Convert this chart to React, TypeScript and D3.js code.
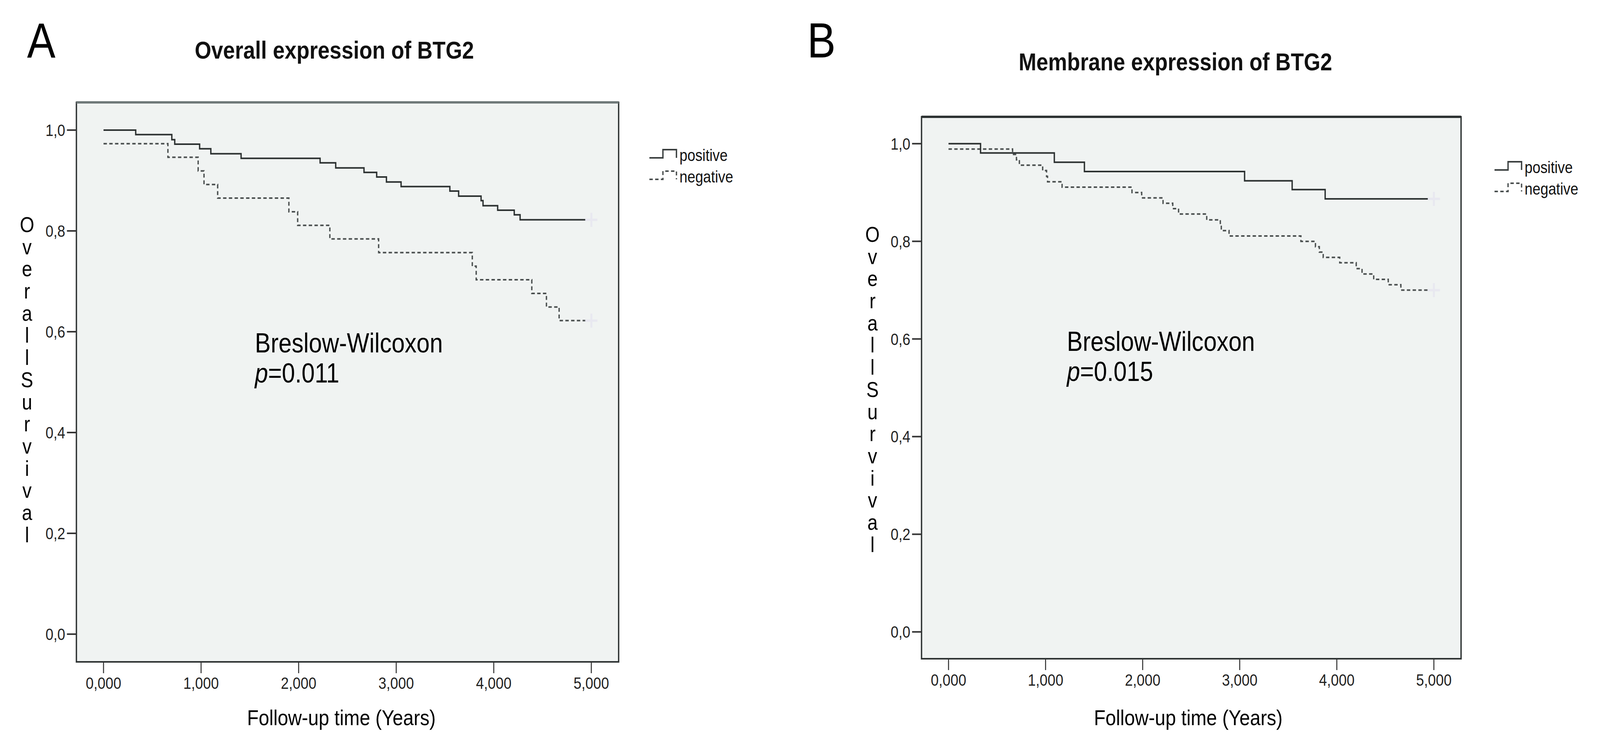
import React, { useEffect } from 'react';
import * as d3 from 'd3';

const W = 4733;
const H = 1917;
const FONT = '"Liberation Sans", Arial, Helvetica, sans-serif';

// axes
const yTicks = [0, 0.2, 0.4, 0.6, 0.8, 1.0];
const yTickLabels = ['0,0', '0,2', '0,4', '0,6', '0,8', '1,0'];
const xTicks = [0, 1, 2, 3, 4, 5];
const xTickLabels = ['0,000', '1,000', '2,000', '3,000', '4,000', '5,000'];
const seriesNames = ['positive', 'negative'];
const censorTime = 5.0;

// A: overall expression
const overallPosTimes = [0, 0.33, 0.7, 0.73, 0.985, 1.1, 1.41, 2.22, 2.38, 2.67, 2.8, 2.9, 3.05, 3.55, 3.64, 3.87, 3.89, 4.04, 4.21, 4.27];
const overallPosSurv = [1.0, 0.991, 0.981, 0.972, 0.963, 0.953, 0.944, 0.935, 0.925, 0.916, 0.907, 0.897, 0.888, 0.879, 0.869, 0.86, 0.85, 0.841, 0.832, 0.822];
const overallNegTimes = [0, 0.66, 0.97, 1.03, 1.17, 1.9, 1.99, 2.32, 2.82, 3.78, 3.82, 4.39, 4.54, 4.67];
const overallNegSurv = [0.973, 0.946, 0.919, 0.892, 0.865, 0.838, 0.811, 0.784, 0.757, 0.73, 0.703, 0.676, 0.649, 0.622];

// B: membrane expression
const membranePosTimes = [0, 0.33, 1.09, 1.4, 3.05, 3.54, 3.88];
const membranePosSurv = [1.0, 0.981, 0.962, 0.943, 0.924, 0.906, 0.887];
const membraneNegTimes = [0, 0.66, 0.7, 0.73, 0.97, 1.01, 1.02, 1.17, 1.89, 1.99, 2.21, 2.31, 2.37, 2.66, 2.8, 2.81, 2.89, 3.63, 3.78, 3.82, 3.86, 4.03, 4.2, 4.26, 4.38, 4.53, 4.66];
const membraneNegSurv = [0.989, 0.978, 0.967, 0.956, 0.945, 0.933, 0.922, 0.911, 0.9, 0.889, 0.878, 0.867, 0.856, 0.844, 0.833, 0.822, 0.811, 0.8, 0.789, 0.778, 0.767, 0.756, 0.744, 0.733, 0.722, 0.711, 0.7];

const yLabelLetters = 'OverallSurvival'.split('');

interface Frame { left: number; top: number; right: number; bottom: number; }

interface PanelProps {
  letter: string;
  letterX: number;
  title: string;
  titleX: number;
  titleY: number;
  frame: Frame;
  topStroke: string;
  posTimes: number[];
  posSurv: number[];
  negTimes: number[];
  negSurv: number[];
  pValue: string;
  noteX: number;
  noteY: number;
  legendX: number;
  legendY: number;
  yLabelX: number;
  yLabelY: number;
  xTitleX: number;
}

const Panel: React.FC<PanelProps> = (p) => {
  const { frame } = p;
  const x = d3.scaleLinear().domain([-0.278, 5.28]).range([frame.left, frame.right]);
  const y = d3.scaleLinear().domain([-0.055, 1.055]).range([frame.bottom, frame.top]);

  const line = d3.line<[number, number]>()
    .x(d => x(d[0]))
    .y(d => y(d[1]))
    .curve(d3.curveStepAfter);

  const toPoints = (times: number[], surv: number[]): [number, number][] => {
    const pts = times.map((t, i) => [t, surv[i]] as [number, number]);
    pts.push([censorTime, surv[surv.length - 1]]);
    return pts;
  };

  const pos = toPoints(p.posTimes, p.posSurv);
  const neg = toPoints(p.negTimes, p.negSurv);
  const posEnd = p.posSurv[p.posSurv.length - 1];
  const negEnd = p.negSurv[p.negSurv.length - 1];

  // censored mark, drawn very faint as in the SPSS export
  const plus = (cx: number, cy: number, key: string) => (
    <g key={key} stroke="#e8e8f0" strokeWidth={6}>
      <line x1={cx - 18} x2={cx + 18} y1={cy} y2={cy} />
      <line x1={cx} x2={cx} y1={cy - 18} y2={cy + 18} />
    </g>
  );

  const legendSymbol = (base: number) =>
    `M${p.legendX},${base - 8}H${p.legendX + 40}V${base - 29}H${p.legendX + 80}V${base - 8}`;

  return (
    <g fontFamily={FONT}>
      <text x={p.letterX} y={147} fontSize={126} fill="#000">{p.letter}</text>
      <text x={p.titleX} y={p.titleY} fontSize={63} fontWeight="bold" textAnchor="middle" fill="#111">
        {p.title}
      </text>

      <rect x={frame.left} y={frame.top} width={frame.right - frame.left} height={frame.bottom - frame.top}
        fill="#f0f3f2" stroke="#2e3333" strokeWidth={4} />
      <line x1={frame.left} x2={frame.right} y1={frame.top} y2={frame.top} stroke={p.topStroke} strokeWidth={6} />

      {/* y axis */}
      {yTicks.map((t, i) => (
        <g key={'y' + i}>
          <line x1={frame.left - 28} x2={frame.left} y1={y(t)} y2={y(t)} stroke="#333" strokeWidth={4} />
          <text x={frame.left - 33} y={y(t) + 15} fontSize={42} textAnchor="end" fill="#222">{yTickLabels[i]}</text>
        </g>
      ))}

      {/* x axis */}
      {xTicks.map((t, i) => (
        <g key={'x' + i}>
          <line x1={x(t)} x2={x(t)} y1={frame.bottom} y2={frame.bottom + 29} stroke="#333" strokeWidth={3} />
          <text x={x(t)} y={frame.bottom + 69} fontSize={42} textAnchor="middle" fill="#222">{xTickLabels[i]}</text>
        </g>
      ))}

      <text x={p.xTitleX} y={1856} fontSize={56} textAnchor="middle" fill="#000">Follow-up time (Years)</text>

      <text x={p.yLabelX} y={p.yLabelY} fontSize={55} textAnchor="middle" fill="#000">
        {yLabelLetters.map((c, i) => (
          <tspan key={i} x={p.yLabelX} dy={i === 0 ? 0 : 56.7}>{c}</tspan>
        ))}
      </text>

      {/* curves */}
      <path d={line(neg) || ''} fill="none" stroke="#4a4f4f" strokeWidth={4} strokeDasharray="10 7" />
      <path d={line(pos) || ''} fill="none" stroke="#2c3131" strokeWidth={4} />
      {plus(x(censorTime), y(posEnd), 'cp')}
      {plus(x(censorTime), y(negEnd), 'cn')}

      {/* legend */}
      <path d={legendSymbol(p.legendY)} fill="none" stroke="#3a3f3f" strokeWidth={4} />
      <text x={p.legendX + 89} y={p.legendY} fontSize={42} fill="#111">{seriesNames[0]}</text>
      <path d={legendSymbol(p.legendY + 55)} fill="none" stroke="#4a4f4f" strokeWidth={4} strokeDasharray="10 7" />
      <text x={p.legendX + 89} y={p.legendY + 55} fontSize={42} fill="#111">{seriesNames[1]}</text>

      {/* test annotation */}
      <text x={p.noteX} y={p.noteY} fontSize={70} fill="#000">Breslow-Wilcoxon</text>
      <text x={p.noteX} y={p.noteY + 77} fontSize={70} fill="#000">
        <tspan fontStyle="italic">p</tspan>={p.pValue}
      </text>
    </g>
  );
};

export default function App() {
  useEffect(() => {
    document.body.style.margin = '0';
    document.body.style.overflow = 'hidden';
  }, []);

  return (
    <svg viewBox={`0 0 ${W} ${H}`} preserveAspectRatio="none"
      style={{ position: 'fixed', left: 0, top: 0, width: '100vw', height: '100vh', display: 'block', background: '#fff' }}>
      <rect width={W} height={H} fill="#fff" />
      <Panel
        letter="A" letterX={80}
        title="Overall expression of BTG2" titleX={989} titleY={150}
        frame={{ left: 226, top: 262, right: 1830, bottom: 1694 }}
        topStroke="#6f7979"
        posTimes={overallPosTimes} posSurv={overallPosSurv}
        negTimes={overallNegTimes} negSurv={overallNegSurv}
        pValue="0.011" noteX={754} noteY={902}
        legendX={1921} legendY={412}
        yLabelX={80} yLabelY={594}
        xTitleX={1010}
      />
      <Panel
        letter="B" letterX={2388}
        title="Membrane expression of BTG2" titleX={3477} titleY={180}
        frame={{ left: 2726, top: 299, right: 4322, bottom: 1686 }}
        topStroke="#2e3333"
        posTimes={membranePosTimes} posSurv={membranePosSurv}
        negTimes={membraneNegTimes} negSurv={membraneNegSurv}
        pValue="0.015" noteX={3156} noteY={898}
        legendX={4421} legendY={443}
        yLabelX={2581} yLabelY={619}
        xTitleX={3515}
      />
    </svg>
  );
}
